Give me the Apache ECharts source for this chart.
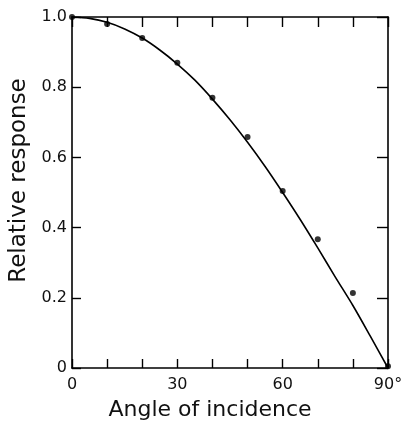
<!DOCTYPE html>
<html>
<head>
<meta charset="utf-8">
<script src="https://cdn.jsdelivr.net/npm/echarts@6/dist/echarts.min.js"></script>
<style>
  html, body { margin: 0; padding: 0; background: #fff; }
  #chart { width: 403px; height: 423px; }
</style>
</head>
<body>
<div id="chart"></div>
<script>
// Measured response at each angle of incidence (degrees)
const angles = [0, 10, 20, 30, 40, 50, 60, 70, 80, 90];
const measured = [1.0, 0.98, 0.94, 0.87, 0.77, 0.658, 0.504, 0.367, 0.214, 0.005];
// Fitted response curve through the measurements
const curveAngles = [0, 5, 10, 15, 20, 25, 30, 35, 40, 45, 50, 55, 60, 65, 70, 75, 80, 85, 90];
const curveValues = [1.0, 0.996, 0.985, 0.966, 0.94, 0.906, 0.866, 0.82, 0.766, 0.707, 0.643, 0.574, 0.5, 0.423, 0.342, 0.259, 0.178, 0.09, 0.0];
const xLabels = { 0: '0', 30: '30', 60: '60', 90: '90°' };
const yLabels = { 0: '0', 0.2: '0.2', 0.4: '0.4', 0.6: '0.6', 0.8: '0.8', 1: '1.0' };

const font = 'DejaVu Sans';
const axisLine = { show: true, onZero: false, lineStyle: { color: '#000', width: 1.6 } };
const tick = len => ({ show: true, inside: true, length: len, lineStyle: { color: '#000', width: 1.4 } });

const chart = echarts.init(document.getElementById('chart'), null, { renderer: 'canvas' });
chart.setOption({
  backgroundColor: '#fff',
  animation: false,
  grid: { left: 72, right: 15, top: 17, bottom: 55, containLabel: false, outerBoundsMode: 'none' },
  xAxis: [
    {
      type: 'value', min: 0, max: 90, interval: 10, position: 'bottom',
      axisLine: axisLine, axisTick: tick(9), splitLine: { show: false },
      axisLabel: {
        color: '#111', fontFamily: font, fontSize: 16, margin: 9,
        formatter: v => xLabels[v] !== undefined ? xLabels[v] : ''
      },
      name: 'Angle of incidence', nameLocation: 'middle', nameGap: 31,
      nameTextStyle: { color: '#111', fontFamily: font, fontSize: 22, padding: [0, 40, 0, 0] }
    },
    {
      type: 'value', min: 0, max: 90, interval: 10, position: 'top',
      axisLine: axisLine, axisTick: tick(10),
      axisLabel: { show: false }, splitLine: { show: false }
    }
  ],
  yAxis: [
    {
      type: 'value', min: 0, max: 1, interval: 0.2, position: 'left',
      axisLine: axisLine, axisTick: tick(9), splitLine: { show: false },
      axisLabel: {
        color: '#111', fontFamily: font, fontSize: 16, margin: 5,
        formatter: v => { const k = Math.round(v * 10) / 10; return yLabels[k] !== undefined ? yLabels[k] : ''; }
      },
      name: 'Relative response', nameLocation: 'middle', nameGap: 24,
      nameTextStyle: { color: '#111', fontFamily: font, fontSize: 23, padding: [0, 0, 0, 24] }
    },
    {
      type: 'value', min: 0, max: 1, interval: 0.2, position: 'right',
      axisLine: axisLine, axisTick: tick(11),
      axisLabel: { show: false }, splitLine: { show: false }
    }
  ],
  series: [
    {
      type: 'line',
      data: curveAngles.map((a, i) => [a, curveValues[i]]),
      smooth: 0.3, symbol: 'none',
      lineStyle: { color: '#000', width: 1.6 }
    },
    {
      type: 'scatter',
      data: angles.map((a, i) => [a, measured[i]]),
      symbol: 'circle', symbolSize: 6,
      itemStyle: { color: '#000' }
    }
  ]
});
</script>
</body>
</html>
